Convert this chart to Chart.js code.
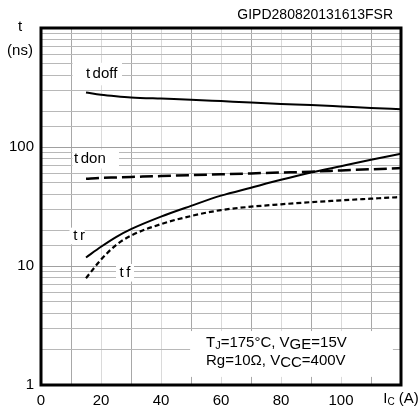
<!DOCTYPE html>
<html>
<head>
<meta charset="utf-8">
<script src="https://cdn.jsdelivr.net/npm/chart.js@4/dist/chart.umd.min.js"></script>
<style>
  html,body{margin:0;padding:0;background:#fff;}
  #wrap{width:420px;height:407px;position:relative;}
</style>
</head>
<body>
<div id="wrap"><canvas id="c" width="420" height="407"></canvas></div>
<script>
// ---- data ----
const icValues = [15, 20, 25, 30, 40, 50, 60, 70, 80, 90, 100, 110, 120];
const tdoff = [287, 275, 267, 261, 255, 250, 243, 236, 230, 225, 219, 213, 208];
const tdon  = [54, 55, 55.5, 56, 57, 58, 59, 60, 61, 62, 63.5, 65, 66.5];
const tr    = [11.8, 14.5, 17.5, 20.4, 26, 32, 39, 45.5, 53, 61, 69, 78, 88];
const tf    = [7.9, 11.3, 15, 18, 22.5, 26.3, 29.5, 31.5, 33, 34.4, 35.6, 36.8, 38];
const yTickLabels = [1, 10, 100];
const xTickLabels = [0, 20, 40, 60, 80, 100];
const docId = 'GIPD280820131613FSR';

const FONT = '"Liberation Sans", Arial, sans-serif';
const pts = arr => icValues.map((x, i) => ({x, y: arr[i]}));

const overlay = {
  id: 'overlay',
  beforeDatasetsDraw(chart) {
    const {ctx} = chart;
    const xs = chart.scales.x, ys = chart.scales.y;
    ctx.save();
    ctx.fillStyle = '#fff';
    const box = (x0, y0, x1, y1) => {
      const a = xs.getPixelForValue(x0), b = xs.getPixelForValue(x1);
      const c = ys.getPixelForValue(y0), d = ys.getPixelForValue(y1);
      ctx.fillRect(Math.min(a,b), Math.min(c,d), Math.abs(b-a), Math.abs(d-c));
    };
    box(10.5, 330, 27, 510);     // t doff
    box(10.5, 66, 26, 95);       // t don
    box(9.5, 15.2, 14.5, 21);    // tr
    box(25, 7.4, 31, 10.4);      // tf
    box(49.7, 1.17, 117.3, 2.84);// annotation
    ctx.restore();
  },
  afterDraw(chart) {
    const {ctx, chartArea: a} = chart;
    const xs = chart.scales.x, ys = chart.scales.y;
    ctx.save();
    ctx.strokeStyle = '#000';
    ctx.lineWidth = 3;
    ctx.strokeRect(a.left, a.top, a.right - a.left, a.bottom - a.top);

    ctx.fillStyle = '#000';
    ctx.textBaseline = 'middle';

    const seg = (parts, x, y, align) => {
      // parts: [text, size, dy, gapAfter]
      let w = 0;
      parts.forEach(p => { ctx.font = p[1] + 'px ' + FONT; w += ctx.measureText(p[0]).width + (p[3] || 0); });
      let cx = align === 'center' ? x - w / 2 : x;
      ctx.textAlign = 'left';
      parts.forEach(p => {
        ctx.font = p[1] + 'px ' + FONT;
        ctx.fillText(p[0], cx, y + p[2]);
        cx += ctx.measureText(p[0]).width + (p[3] || 0);
      });
    };

    // curve labels
    seg([['t', 15, 0, 2.5], ['doff', 15, 0]], xs.getPixelForValue(20.2), ys.getPixelForValue(410), 'center');
    seg([['t', 15, 0, 2.5], ['don', 15, 0]], xs.getPixelForValue(16.3), ys.getPixelForValue(79), 'center');
    seg([['t', 15, 0, 2.5], ['r', 15, 0]], xs.getPixelForValue(12.7), ys.getPixelForValue(17.9), 'center');
    seg([['t', 15, 0, 2.5], ['f', 15, 0]], xs.getPixelForValue(28), ys.getPixelForValue(8.7), 'center');

    // axis title t (ns)
    ctx.font = '15px ' + FONT;
    ctx.textAlign = 'center';
    ctx.fillText('t', a.left - 21, a.top - 1);
    ctx.fillText('(ns)', a.left - 21, a.top + 23);

    // doc id
    ctx.font = '14px ' + FONT;
    ctx.textAlign = 'right';
    ctx.fillText(docId, a.right - 8, 15);

    // x axis title I_C (A)
    seg([['I', 15, 0], ['C', 10, 3], [' (A)', 15, 0]], xs.getPixelForValue(120), 399, 'center');

    // annotation
    const ax = xs.getPixelForValue(55);
    seg([['T', 15, 0], ['J', 11, 3], ['=175°C, V', 15, 0], ['GE', 15, 2], ['=15V', 15, 0]], ax, ys.getPixelForValue(2.27), 'left');
    seg([['Rg=10Ω, V', 15, 0], ['CC', 15, 2], ['=400V', 15, 0]], ax, ys.getPixelForValue(1.59), 'left');
    ctx.restore();
  }
};

new Chart(document.getElementById('c'), {
  type: 'line',
  data: {
    datasets: [
      {label: 'tdoff', data: pts(tdoff), borderColor: '#000', borderWidth: 2, pointRadius: 0, cubicInterpolationMode: 'monotone', fill: false},
      {label: 'tdon', data: pts(tdon), borderColor: '#000', borderWidth: 2.5, borderDash: [13, 5], pointRadius: 0, cubicInterpolationMode: 'monotone', fill: false},
      {label: 'tr', data: pts(tr), borderColor: '#000', borderWidth: 2, pointRadius: 0, cubicInterpolationMode: 'monotone', fill: false},
      {label: 'tf', data: pts(tf), borderColor: '#000', borderWidth: 2.2, borderDash: [5, 3], pointRadius: 0, cubicInterpolationMode: 'monotone', fill: false}
    ]
  },
  options: {
    responsive: false,
    animation: false,
    events: [],
    layout: {padding: {left: 0, right: 19, top: 28, bottom: 0}},
    plugins: {legend: {display: false}, tooltip: {enabled: false}},
    scales: {
      x: {
        type: 'linear', min: 0, max: 120,
        afterFit: s => { s.height = 22; },
        border: {display: false},
        grid: {
          drawTicks: false,
          lineWidth: 1,
          color: c => (Math.round(c.tick.value) % 20 === 10) ? '#a8a8a8' : '#dadada'
        },
        ticks: {
          stepSize: 10, autoSkip: false, maxRotation: 0, padding: 7,
          color: '#000', font: {family: FONT, size: 15},
          callback: v => xTickLabels.includes(v) ? String(v) : ''
        }
      },
      y: {
        type: 'logarithmic', min: 1, max: 1000,
        afterFit: s => { s.width = 41; },
        border: {display: false},
        grid: {
          drawTicks: false,
          lineWidth: 1,
          color: c => {
            const v = c.tick.value;
            const lg = Math.log10(v);
            return Math.abs(lg - Math.round(lg)) < 1e-6 ? '#a0a0a0' : '#b8b8b8';
          }
        },
        ticks: {
          autoSkip: false, padding: 7,
          color: '#000', font: {family: FONT, size: 15},
          callback: v => yTickLabels.includes(v) ? String(v) : ''
        }
      }
    }
  },
  plugins: [overlay]
});
</script>
</body>
</html>
